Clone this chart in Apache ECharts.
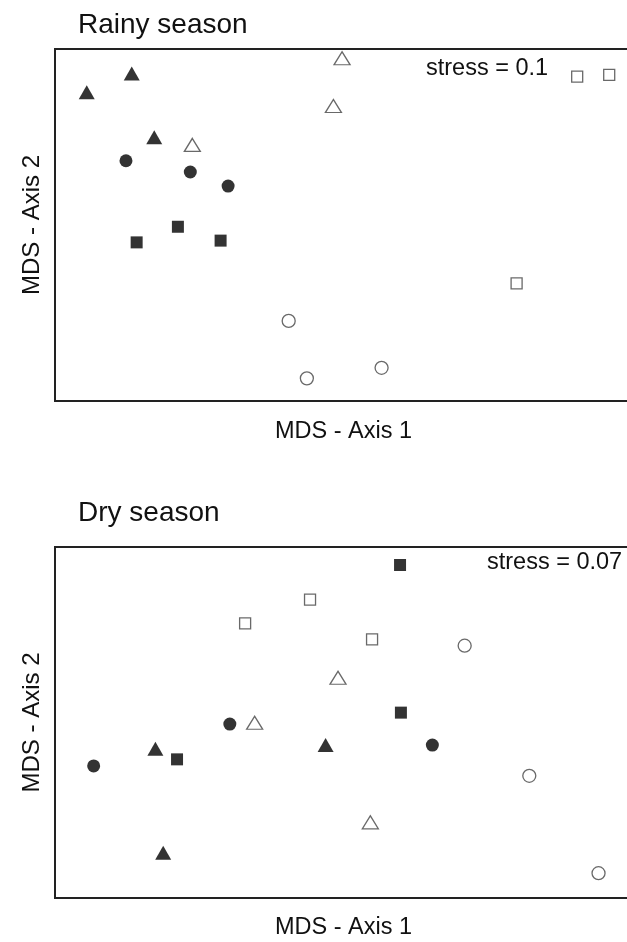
<!DOCTYPE html>
<html>
<head>
<meta charset="utf-8">
<script src="https://cdn.jsdelivr.net/npm/echarts@6/dist/echarts.min.js"></script>
<style>
  html, body { margin: 0; padding: 0; background: #fff; }
  #chart { width: 627px; height: 942px; }
</style>
</head>
<body>
<div id="chart"></div>
<script>
// Panel texts
const panelTitles = ['Rainy season', 'Dry season'];
const stressLabels = ['stress = 0.1', 'stress = 0.07'];
const xAxisName = 'MDS - Axis 1';
const yAxisName = 'MDS - Axis 2';

// MDS ordination scores, rainy season: [axis 1, axis 2]
const rainyFilledTriangle = [[-0.734, 0.689], [-0.890, 0.603], [-0.656, 0.399]];
const rainyFilledCircle   = [[-0.754, 0.292], [-0.531, 0.241], [-0.400, 0.177]];
const rainyFilledSquare   = [[-0.574, -0.008], [-0.717, -0.079], [-0.426, -0.071]];
const rainyOpenTriangle   = [[-0.005, 0.758], [-0.035, 0.541], [-0.524, 0.364]];
const rainyOpenSquare     = [[0.810, 0.674], [0.921, 0.682], [0.600, -0.265]];
const rainyOpenCircle     = [[-0.190, -0.436], [0.132, -0.649], [-0.127, -0.697]];

// MDS ordination scores, dry season
const dryFilledTriangle = [[-0.652, -0.120], [-0.062, -0.103], [-0.625, -0.594]];
const dryFilledCircle   = [[-0.394, -0.007], [-0.866, -0.198], [0.308, -0.103]];
const dryFilledSquare   = [[0.196, 0.718], [-0.577, -0.168], [0.199, 0.045]];
const dryOpenTriangle   = [[-0.019, 0.204], [-0.308, -0.001], [0.093, -0.455]];
const dryOpenSquare     = [[-0.116, 0.560], [-0.341, 0.452], [0.099, 0.379]];
const dryOpenCircle     = [[0.420, 0.350], [0.644, -0.243], [0.884, -0.687]];

const axisRangeX = [-1, 1];
const axisRangeY = [-0.8, 0.8];

const FONT = '"Liberation Sans", Arial, sans-serif';
const INK = '#111';
const OPEN_EDGE = '#444';

const symbolStyles = {
  filledTriangle: { symbol: 'triangle', size: [16, 14], fill: '#000', edge: null },
  filledCircle:   { symbol: 'circle',   size: 13, fill: '#000', edge: null },
  filledSquare:   { symbol: 'rect',     size: 12, fill: '#000', edge: null },
  openTriangle:   { symbol: 'triangle', size: [16, 13], fill: '#fff', edge: OPEN_EDGE },
  openSquare:     { symbol: 'rect',     size: 11, fill: '#fff', edge: OPEN_EDGE },
  openCircle:     { symbol: 'circle',   size: 13, fill: '#fff', edge: OPEN_EDGE }
};

// The plot frame runs past the right edge of the page, so its right side is not seen.
const panels = [
  {
    groups: {
      filledTriangle: rainyFilledTriangle, filledCircle: rainyFilledCircle,
      filledSquare: rainyFilledSquare, openTriangle: rainyOpenTriangle,
      openSquare: rainyOpenSquare, openCircle: rainyOpenCircle
    },
    grid: { left: 55, top: 49, width: 577, height: 352 },
    titleTop: 6, stressPos: [426, 57], xNameGap: 19
  },
  {
    groups: {
      filledTriangle: dryFilledTriangle, filledCircle: dryFilledCircle,
      filledSquare: dryFilledSquare, openTriangle: dryOpenTriangle,
      openSquare: dryOpenSquare, openCircle: dryOpenCircle
    },
    grid: { left: 55, top: 547, width: 577, height: 351 },
    titleTop: 494, stressPos: [487, 551], xNameGap: 18
  }
];

const grids = [], xAxes = [], yAxes = [], series = [], titles = [], graphics = [];

panels.forEach((p, i) => {
  grids.push(Object.assign({
    show: true, borderColor: '#222', borderWidth: 2, backgroundColor: '#fff',
    outerBoundsMode: 'none', containLabel: false
  }, p.grid));

  xAxes.push({
    gridIndex: i, type: 'value', min: axisRangeX[0], max: axisRangeX[1],
    axisLine: { show: false }, axisTick: { show: false },
    axisLabel: { show: false }, splitLine: { show: false },
    name: xAxisName, nameLocation: 'middle', nameGap: p.xNameGap,
    nameTextStyle: { fontFamily: FONT, fontSize: 23.5, color: INK, verticalAlign: 'top' }
  });
  yAxes.push({
    gridIndex: i, type: 'value', min: axisRangeY[0], max: axisRangeY[1],
    axisLine: { show: false }, axisTick: { show: false },
    axisLabel: { show: false }, splitLine: { show: false },
    name: yAxisName, nameLocation: 'middle', nameGap: 11,
    nameTextStyle: { fontFamily: FONT, fontSize: 24, color: INK }
  });

  titles.push({
    text: panelTitles[i], left: 73, top: p.titleTop,
    textStyle: { fontFamily: FONT, fontSize: 28, fontWeight: 'normal', color: INK }
  });

  graphics.push({
    type: 'text', left: p.stressPos[0], top: p.stressPos[1],
    style: { text: stressLabels[i], font: '23.5px ' + FONT, fill: INK }
  });

  Object.keys(p.groups).forEach(key => {
    const st = symbolStyles[key];
    series.push({
      type: 'scatter', name: key, xAxisIndex: i, yAxisIndex: i,
      data: p.groups[key], symbol: st.symbol, symbolSize: st.size,
      itemStyle: st.edge
        ? { color: st.fill, borderColor: st.edge, borderWidth: 1.3 }
        : { color: st.fill },
      emphasis: { disabled: true }, animation: false, z: 3
    });
  });
});

const chart = echarts.init(document.getElementById('chart'), null, { renderer: 'canvas' });
chart.setOption({
  backgroundColor: '#fff',
  animation: false,
  title: titles,
  grid: grids,
  xAxis: xAxes,
  yAxis: yAxes,
  series: series,
  graphic: graphics
});
</script>
</body>
</html>
